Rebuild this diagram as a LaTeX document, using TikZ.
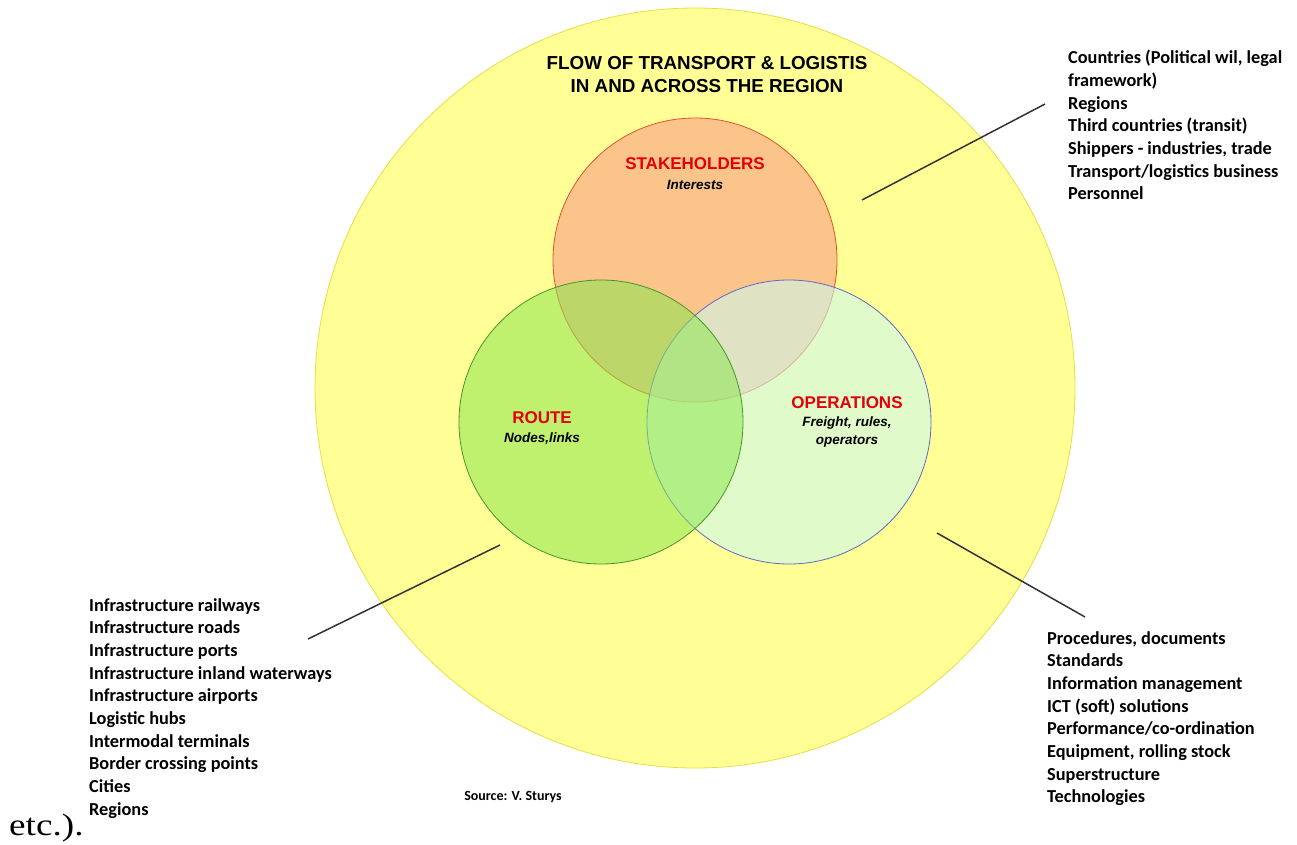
\documentclass[tikz,border=0pt]{standalone}
\usepackage{fontspec}
\setmainfont{Carlito}
\newfontfamily\arialfont{Liberation Sans}
\newfontfamily\timesfont{Liberation Serif}

\definecolor{regionyellow}{RGB}{255,255,150}
\definecolor{regionedge}{RGB}{225,225,70}
\definecolor{stakefill}{RGB}{250,196,138}
\definecolor{stakeedge}{RGB}{232,80,40}
\definecolor{routefill}{RGB}{140,230,80}
\definecolor{routeedge}{RGB}{70,150,40}
\definecolor{opsfill}{RGB}{205,248,235}
\definecolor{opsedge}{RGB}{95,105,200}
\definecolor{labelred}{RGB}{228,0,10}

\tikzset{
  set/.style={circle, inner sep=0pt, outer sep=0pt, line width=0.8pt},
  setname/.style={font=\arialfont\bfseries\fontsize{17}{20}\selectfont, text=labelred, inner sep=0pt},
  setnote/.style={font=\arialfont\bfseries\itshape\fontsize{13.5}{18}\selectfont, align=center, inner sep=0pt},
  itemlist/.style={anchor=north west, align=left, inner sep=0pt,
    font=\bfseries\fontsize{18.3}{22.7}\selectfont},
  leader/.style={draw=black!80, line width=1.5pt}
}

\begin{document}
\begin{tikzpicture}[x=1pt,y=-1pt]
  \fill[white] (0,0) rectangle (1297,845);
  \useasboundingbox (0,0) rectangle (1297,845);

  % the region and the three sets
  \node[set, minimum size=760pt, draw=regionedge, fill=regionyellow] (region) at (695,388) {};
  \node[set, minimum size=284pt, draw=stakeedge, fill=stakefill] (stake) at (695,260) {};
  \node[set, minimum size=284pt, draw=opsedge, fill=opsfill, fill opacity=0.6] (ops) at (789,422) {};
  \node[set, minimum size=284pt, draw=routeedge, fill=routefill, fill opacity=0.55] (route) at (601,422) {};

  % titles
  \node[font=\arialfont\bfseries\fontsize{18.8}{23}\selectfont, align=center, inner sep=0pt] (title) at (707,75)
    {FLOW OF TRANSPORT \& LOGISTIS\\IN AND ACROSS THE REGION};
  \node[setname] (stakename) at (695,164) {STAKEHOLDERS};
  \node[setnote] (stakenote) at (695,185) {Interests};
  \node[setname] (routename) at (542,418) {ROUTE};
  \node[setnote] (routenote) at (542,439) {Nodes,links};
  \node[setname] (opsname) at (847,403) {OPERATIONS};
  \node[setnote] (opsnote) at (847,432) {Freight, rules,\\operators};

  % lists
  \node[itemlist] (stakelist) at (1068,50) {Countries (Political wil, legal\\framework)\\Regions\\Third countries (transit)\\Shippers - industries, trade\\Transport/logistics business\\Personnel};
  \node[itemlist] (routelist) at (89,598) {Infrastructure railways\\Infrastructure roads\\Infrastructure ports\\Infrastructure inland waterways\\Infrastructure airports\\Logistic hubs\\Intermodal terminals\\Border crossing points\\Cities\\Regions};
  \node[itemlist] (opslist) at (1047,631) {Procedures, documents\\Standards\\Information management\\ICT (soft) solutions\\Performance/co-ordination\\Equipment, rolling stock\\Superstructure\\Technologies};

  % leader lines
  \coordinate (stakefrom) at (862,200);
  \coordinate (staketo) at (1045,104);
  \coordinate (routefrom) at (500,545);
  \coordinate (routeto) at (308,639);
  \coordinate (opsfrom) at (937,533);
  \coordinate (opsto) at (1085,617);
  \draw[leader] (stakefrom) -- (staketo);
  \draw[leader] (routefrom) -- (routeto);
  \draw[leader] (opsfrom) -- (opsto);

  \node[font=\bfseries\fontsize{14}{16}\selectfont, inner sep=0pt] (source) at (513,797) {Source: V. Sturys};
  \node[font=\timesfont\fontsize{31}{34}\selectfont, anchor=west, inner sep=0pt] (etc) at (9,828) {\scalebox{1.2}[1]{etc.).}};
\end{tikzpicture}
\end{document}
